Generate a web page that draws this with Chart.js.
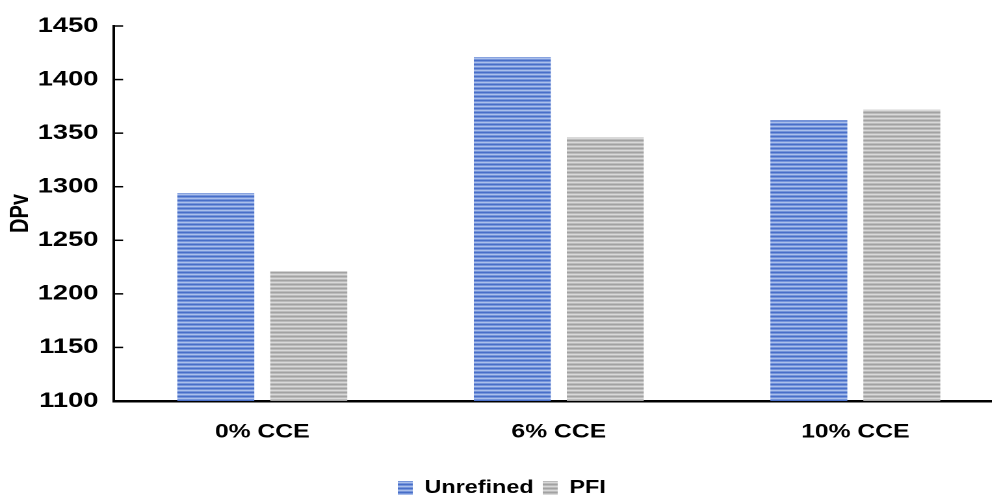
<!DOCTYPE html>
<html>
<head>
<meta charset="utf-8">
<script src="https://cdn.jsdelivr.net/npm/chart.js@4/dist/chart.umd.min.js"></script>
<style>
  html, body { margin: 0; padding: 0; background: #fff; width: 992px; height: 498px; overflow: hidden; }
  #wrap { position: absolute; left: 0; top: 0; width: 772px; height: 507px; transform: scaleX(1.3); transform-origin: 0 0; }
</style>
</head>
<body>
<div id="wrap"><canvas id="c" width="772" height="507"></canvas></div>
<script>
const categories = ['0% CCE', '6% CCE', '10% CCE'];
const seriesNames = ['Unrefined', 'PFI'];
const unrefined = [1294, 1421, 1362];
const pfi = [1221, 1346, 1372];
const yMin = 1100, yMax = 1450, yStep = 50;

function stripes(cols) {
  const c = document.createElement('canvas');
  c.width = 1; c.height = cols.length;
  const g = c.getContext('2d');
  cols.forEach((col, i) => { g.fillStyle = col; g.fillRect(0, i, 1, 1); });
  return g.createPattern(c, 'repeat');
}
const bluePat = stripes(['#3a62c2', '#7393da', '#bccdf1', '#7393da']);
const grayPat = stripes(['#999999', '#bbbbbb', '#e3e3e3', '#bbbbbb']);

const innerTicks = {
  id: 'innerTicks',
  afterDraw(chart) {
    const ys = chart.scales.y, a = chart.chartArea, ctx = chart.ctx;
    ctx.save();
    ctx.strokeStyle = '#000';
    ctx.lineWidth = 1.5;
    ys.ticks.forEach(t => {
      if (t.value === yMin) return;
      const py = ys.getPixelForValue(t.value);
      ctx.beginPath();
      ctx.moveTo(a.left, py);
      ctx.lineTo(a.left + 7, py);
      ctx.stroke();
    });
    ctx.restore();
  }
};

Chart.defaults.color = '#000';
Chart.defaults.font.family = '"Liberation Sans", Arial, sans-serif';
Chart.defaults.font.weight = 'bold';
Chart.defaults.font.size = 18;

new Chart(document.getElementById('c'), {
  type: 'bar',
  data: {
    labels: categories,
    datasets: [
      { label: seriesNames[0], data: unrefined, backgroundColor: bluePat, borderWidth: 0, base: yMin },
      { label: seriesNames[1], data: pfi, backgroundColor: grayPat, borderWidth: 0, base: yMin }
    ]
  },
  options: {
    responsive: false,
    devicePixelRatio: 2,
    animation: false,
    layout: { padding: { top: 26, right: 0, left: 0, bottom: 0 } },
    datasets: { bar: { categoryPercentage: 0.627, barPercentage: 0.828 } },
    plugins: {
      tooltip: { enabled: false },
      legend: {
        position: 'bottom',
        labels: {
          boxWidth: 11.5, boxHeight: 14, padding: 7,
          font: { size: 18, weight: 'bold' }, color: '#000'
        }
      }
    },
    scales: {
      x: {
        z: 1,
        grid: { display: false, drawTicks: false },
        border: { display: true, color: '#000', width: 2.5 },
        ticks: { padding: 20, font: { size: 19, weight: 'bold' }, color: '#000' },
        afterFit(s) { s.height = 71; }
      },
      y: {
        min: yMin, max: yMax,
        grid: { display: false, drawTicks: false },
        border: { display: true, color: '#000', width: 2 },
        ticks: { stepSize: yStep, padding: 12, font: { size: 21, weight: 'bold' }, color: '#000',
                 callback: v => String(v) },
        title: { display: true, text: 'DPv', padding: { top: 4.2, bottom: 0 }, font: { size: 20, weight: 'bold' }, color: '#000' },
        afterFit(s) { s.width = 87.7; }
      }
    }
  },
  plugins: [innerTicks]
});
</script>
</body>
</html>
